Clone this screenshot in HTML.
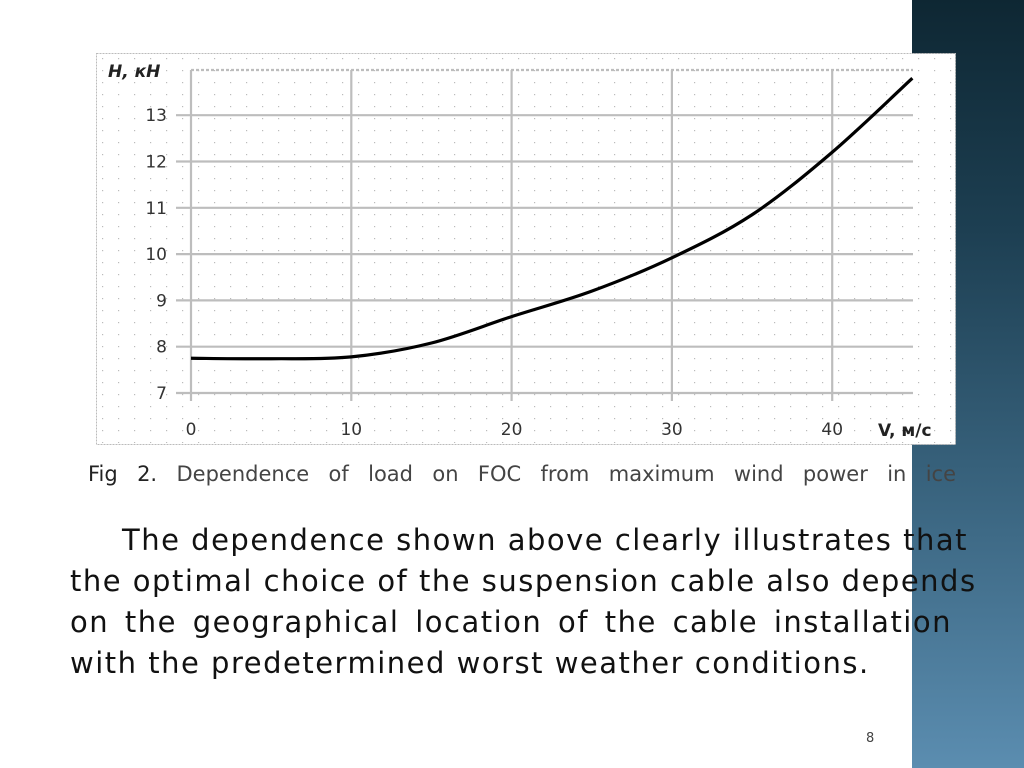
<!DOCTYPE html>
<html><head><meta charset="utf-8"><style>
body{margin:0;width:1024px;height:768px;position:relative;overflow:hidden;background:#fff;font-family:"DejaVu Sans","Liberation Sans",sans-serif;}
#band{position:absolute;left:912px;top:0;width:112px;height:768px;background:linear-gradient(180deg,#0e2733 0%,#1d3f52 30%,#3a6580 65%,#5b8db0 100%);}
#chart{position:absolute;left:96px;top:53px;}
#caption{position:absolute;left:88px;top:462px;width:868px;font-size:21px;color:#444;white-space:nowrap;text-align:justify;text-align-last:justify;}
#body{position:absolute;left:70px;top:520px;width:882px;font-size:29px;line-height:41px;color:#111;letter-spacing:1.5px;}
#body div{text-align:justify;text-align-last:justify;white-space:nowrap;}
#body div.last{text-align-last:left;}
#pnum{position:absolute;left:866px;top:731px;font-size:13px;color:#444;}
</style></head><body>
<div id="band"></div>
<svg id="chart" width="860" height="392" font-family="DejaVu Sans, Liberation Sans, sans-serif">
<defs><pattern id="dots" width="16" height="12" patternUnits="userSpaceOnUse"><rect x="6" y="5" width="1.2" height="1.2" fill="#bbb"/></pattern></defs>
<rect x="0.5" y="0.5" width="859" height="391" fill="#fff" stroke="#bbb" stroke-dasharray="2,1"/>
<rect x="2" y="2" width="856" height="388" fill="url(#dots)"/>
<g id="grid"></g>
<path id="curve" fill="none" stroke="#000" stroke-width="3.2"/>
<g id="labels" font-size="17" fill="#333"></g>
<text x="12" y="24" font-size="17" font-weight="bold" font-style="italic" fill="#222">H, кН</text>
<text x="782" y="383" font-size="17" font-weight="bold" fill="#222">V, м/с</text>
</svg>
<div id="caption"><span style="color:#222">Fig 2.</span> Dependence of load on FOC from maximum wind power in ice</div>
<div id="body">
<div style="padding-left:52px">The dependence shown above clearly illustrates that</div>
<div>the optimal choice of the suspension cable also depends</div>
<div>on the geographical location of the cable installation</div>
<div class="last">with the predetermined worst weather conditions.</div>
</div>
<div id="pnum">8</div>
<script>
const xTicks=[0,10,20,30,40];
const yTicks=[7,8,9,10,11,12,13];
const windSpeed=[0,5,10,15,20,25,30,35,40,45];
const loadKN=[7.75,7.74,7.78,8.08,8.65,9.2,9.92,10.85,12.2,13.8];
const ns="http://www.w3.org/2000/svg";
const X=v=>95+v*16.03, Y=v=>340-(v-7)*46.3;
const grid=document.getElementById('grid'),labels=document.getElementById('labels');
function ln(x1,y1,x2,y2){const l=document.createElementNS(ns,'line');l.setAttribute('x1',x1);l.setAttribute('y1',y1);l.setAttribute('x2',x2);l.setAttribute('y2',y2);l.setAttribute('stroke','#bdbdbd');l.setAttribute('stroke-width','2.2');grid.appendChild(l);return l;}
const plotTop=17,plotRight=817;
xTicks.forEach(t=>{const l=ln(X(t),plotTop,X(t),348);


const tx=document.createElementNS(ns,'text');tx.setAttribute('x',X(t));tx.setAttribute('y',382);tx.setAttribute('text-anchor','middle');tx.textContent=t;


labels.appendChild(tx);});
yTicks.forEach(t=>{const l=ln(80,Y(t),plotRight,Y(t));


const tx=document.createElementNS(ns,'text');tx.setAttribute('x',71);tx.setAttribute('y',Y(t)+6);tx.setAttribute('text-anchor','end');tx.textContent=t;


labels.appendChild(tx);});
const tl=ln(X(0),plotTop,plotRight,plotTop);tl.setAttribute('stroke-dasharray','3,2');


const p=windSpeed.map((w,i)=>[X(w),Y(loadKN[i])]);
let d='M'+p[0][0]+','+p[0][1];
for(let i=0;i<p.length-1;i++){const p0=p[i-1]||p[i],p1=p[i],p2=p[i+1],p3=p[i+2]||p2;
d+=` C${p1[0]+(p2[0]-p0[0])/6},${p1[1]+(p2[1]-p0[1])/6} ${p2[0]-(p3[0]-p1[0])/6},${p2[1]-(p3[1]-p1[1])/6} ${p2[0]},${p2[1]}`;}
document.getElementById('curve').setAttribute('d',d);
</script>
</body></html>
